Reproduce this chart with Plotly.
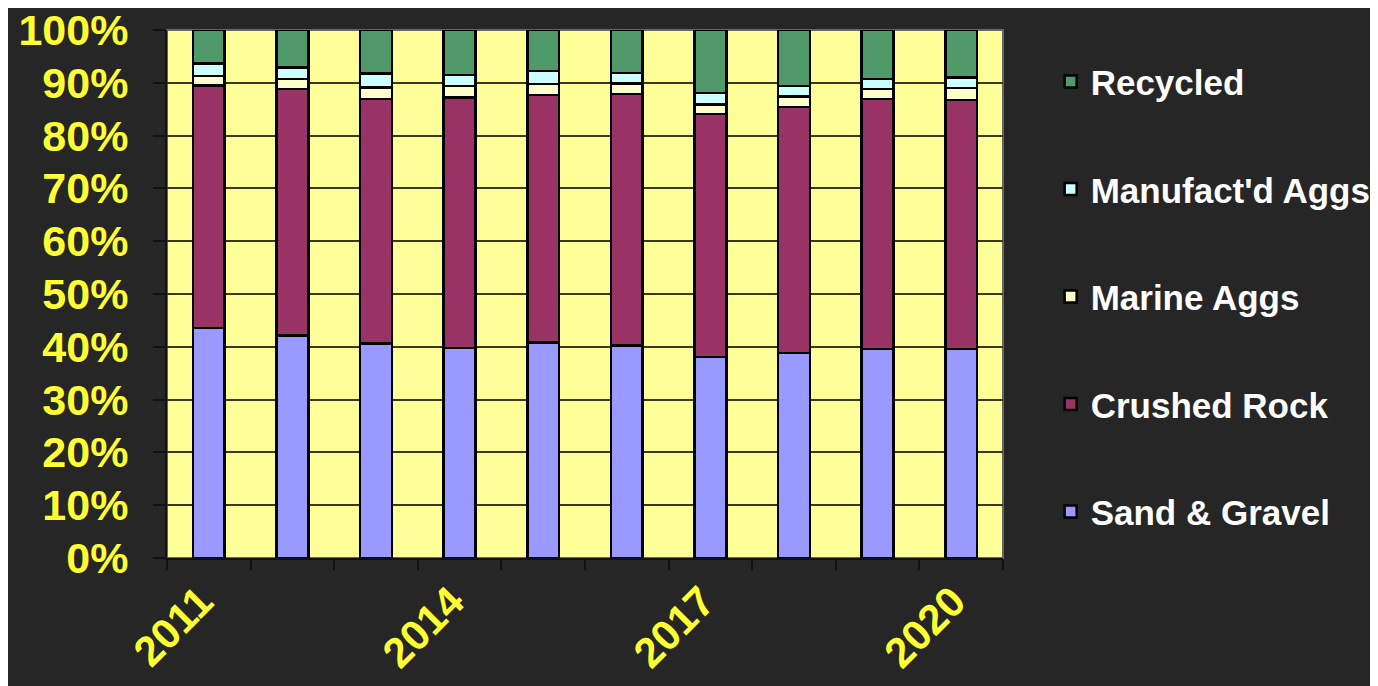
import plotly.graph_objects as go

years = [2011, 2012, 2013, 2014, 2015, 2016, 2017, 2018, 2019, 2020]
sand_gravel = [43.6, 42.1, 40.6, 39.8, 40.8, 40.2, 38.1, 38.8, 39.6, 39.6]
crushed_rock = [45.9, 46.7, 46.3, 47.4, 46.9, 47.7, 46.0, 46.6, 47.3, 47.1]
marine_aggs = [1.8, 1.9, 2.2, 2.2, 2.1, 2.0, 1.8, 2.0, 1.9, 2.3]
manufactd_aggs = [2.4, 2.2, 2.7, 2.1, 2.4, 2.0, 2.2, 2.0, 1.9, 2.0]
recycled = [6.3, 7.1, 8.2, 8.5, 7.8, 8.1, 11.9, 10.6, 9.3, 9.0]

series = [
    ("Sand & Gravel", sand_gravel, "#9999FF"),
    ("Crushed Rock", crushed_rock, "#993366"),
    ("Marine Aggs", marine_aggs, "#FFFFCC"),
    ("Manufact'd Aggs", manufactd_aggs, "#CCFFFF"),
    ("Recycled", recycled, "#4F9A68"),
]

tick_years = [2011, 2014, 2017, 2020]
boundaries = [y - 0.5 for y in years] + [years[-1] + 0.5]
y_ticks = list(range(0, 101, 10))

fig = go.Figure()
n = len(series)
for i, (name, vals, col) in enumerate(series):
    fig.add_trace(go.Bar(
        x=years, y=vals, name=name, legendgroup=name,
        legendrank=n - i,
        marker=dict(color=col, line=dict(color="#000000", width=2.5)),
        width=0.38,
    ))

font_family = "Liberation Sans, Arial, sans-serif"
fig.update_layout(
    barmode="stack",
    width=1378, height=686,
    paper_bgcolor="#262626",
    plot_bgcolor="#FFFF99",
    margin=dict(l=159, r=383, t=22, b=136, autoexpand=False),
    showlegend=True,
    legend=dict(
        traceorder="grouped",
        tracegroupgap=59,
        x=1.057, xanchor="left", y=0.958, yanchor="top",
        font=dict(family=font_family, size=35, color="#FFFFFF", weight="bold"),
        bgcolor="rgba(0,0,0,0)",
    ),
)
fig.update_xaxes(
    range=[2010.5, 2020.5],
    tickmode="array", tickvals=tick_years, ticktext=[str(y) for y in tick_years],
    ticks="", tickangle=-45, ticklabelshift=-8,
    tickfont=dict(family=font_family, size=42, color="#FFFF33", weight="bold"),
    showgrid=False, zeroline=False,
    showline=True, linecolor="#111111", linewidth=2,
    minor=dict(tickvals=boundaries, ticks="outside", ticklen=10,
               tickcolor="#111111", tickwidth=1.5, showgrid=False),
)
fig.update_yaxes(
    range=[0, 100], tickmode="array", tickvals=y_ticks,
    ticktext=[f"{v}%" for v in y_ticks],
    ticks="outside", ticklen=12, tickcolor="#111111", tickwidth=1.5,
    ticklabelstandoff=16, ticklabeloverflow="allow",
    tickfont=dict(family=font_family, size=43, color="#FFFF33", weight="bold"),
    showgrid=True, gridcolor="#3a3a20", gridwidth=1.5,
    zeroline=False,
    showline=True, linecolor="#111111", linewidth=2,
)
fig.add_shape(type="rect", xref="paper", yref="paper", x0=0, y0=0, x1=1, y1=1,
              line=dict(color="#666666", width=2), fillcolor="rgba(0,0,0,0)", layer="below")

fig.write_html("out.html")
